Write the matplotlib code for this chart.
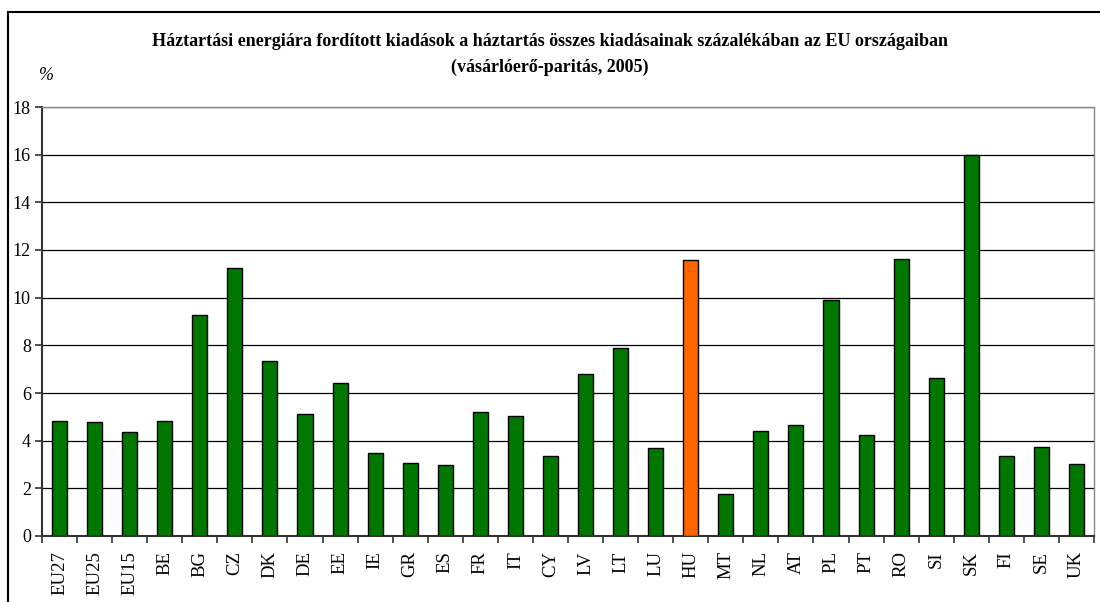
import matplotlib.pyplot as plt
from matplotlib.patches import Rectangle

plt.rcParams['font.family'] = ['Liberation Serif', 'DejaVu Serif']

# adatok
orszagok = ['EU27', 'EU25', 'EU15', 'BE', 'BG', 'CZ', 'DK', 'DE', 'EE', 'IE',
            'GR', 'ES', 'FR', 'IT', 'CY', 'LV', 'LT', 'LU', 'HU', 'MT',
            'NL', 'AT', 'PL', 'PT', 'RO', 'SI', 'SK', 'FI', 'SE', 'UK']
ertekek = [4.83, 4.78, 4.36, 4.83, 9.27, 11.25, 7.34, 5.12, 6.42, 3.48,
           3.06, 2.98, 5.20, 5.04, 3.36, 6.80, 7.89, 3.69, 11.58, 1.76,
           4.41, 4.66, 9.90, 4.24, 11.62, 6.63, 15.99, 3.36, 3.73, 3.02]
kiemelt = 'HU'
yticks = [0, 2, 4, 6, 8, 10, 12, 14, 16, 18]

szinek = ['#ff6600' if o == kiemelt else '#007800' for o in orszagok]

fig = plt.figure(figsize=(11, 6.02), dpi=100)
ax = fig.add_axes([42 / 1100, 1 - 536 / 602, (1094 - 42) / 1100, (536 - 107) / 602])

x = list(range(len(orszagok)))
ax.bar(x, ertekek, width=0.43, color=szinek, edgecolor='black', linewidth=1.0, zorder=3)

ax.set_xlim(-0.5, len(orszagok) - 0.5)
ax.set_ylim(0, 18)
ax.set_yticks(yticks)
ax.set_yticklabels([str(v) for v in yticks], fontsize=13)
ax.yaxis.grid(True, color='black', linewidth=0.9, zorder=0)

# x tengely: feliratok a kategóriák alatt, osztásjelek közöttük
ax.set_xticks(x)
ax.set_xticklabels(orszagok, rotation=90, fontsize=13.5)
ax.tick_params(axis='x', which='major', length=0, pad=11)
ax.set_xticks([i - 0.5 for i in range(len(orszagok) + 1)], minor=True)
ax.tick_params(axis='x', which='minor', length=5, width=1.2, color='#333333')
ax.tick_params(axis='y', length=5, width=1.2, color='#333333', pad=3)

for s in ['left', 'bottom']:
    ax.spines[s].set_color('#333333')
    ax.spines[s].set_linewidth(1.5)
for s in ['top', 'right']:
    ax.spines[s].set_color('#888888')
    ax.spines[s].set_linewidth(1.0)

fig.text(0.5, 1 - 42 / 602,
         'Háztartási energiára fordított kiadások a háztartás összes kiadásainak százalékában az EU országaiban',
         ha='center', va='center', fontsize=13, fontweight='bold')
fig.text(0.5, 1 - 67 / 602, '(vásárlóerő-paritás, 2005)',
         ha='center', va='center', fontsize=13, fontweight='bold')
fig.text(46 / 1100, 1 - 76 / 602, '%', ha='center', va='center', fontsize=13, style='italic')

# külső keret
fig.patches.append(Rectangle((8 / 1100, -0.01), 1.2, 1 - 12 / 602 + 0.01,
                             transform=fig.transFigure, fill=False,
                             edgecolor='black', linewidth=1.5))

fig.savefig('out.png', dpi=100)
